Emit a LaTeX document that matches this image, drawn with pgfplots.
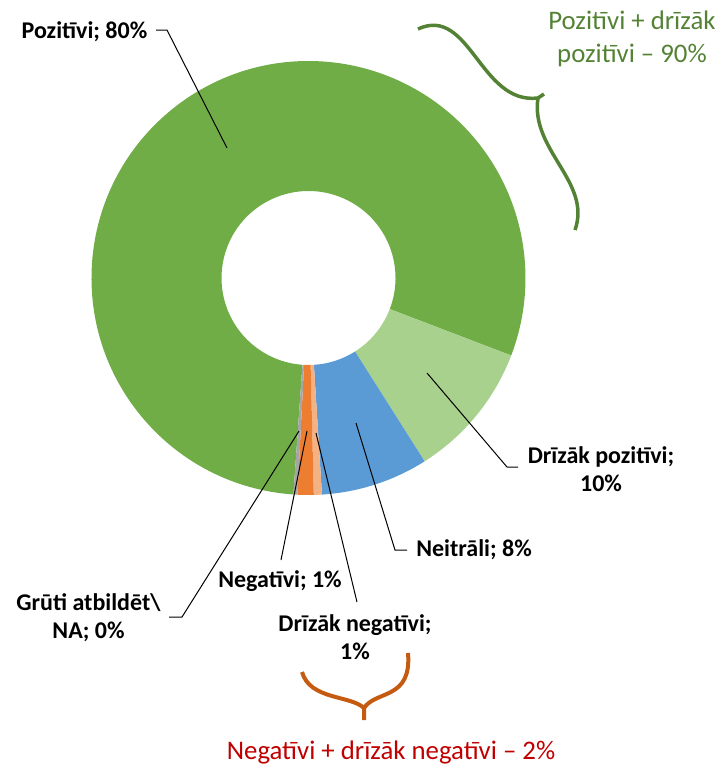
\documentclass[border=0pt]{standalone}
\usepackage{fontspec}
\setmainfont{Carlito}
\usepackage{pgfplots}
\pgfplotsset{compat=1.18}
\usepackage{pgfplotstable}

\definecolor{c0}{HTML}{70AD47}
\definecolor{c1}{HTML}{A9D18E}
\definecolor{c2}{HTML}{5B9BD5}
\definecolor{c3}{HTML}{F4B183}
\definecolor{c4}{HTML}{ED7D31}
\definecolor{c5}{HTML}{A5A5A5}
\definecolor{gbrace}{HTML}{548235}
\definecolor{obrace}{HTML}{C55A11}
\definecolor{rtext}{HTML}{C00000}

% share of answers, in percent, clockwise from the bottom
\pgfplotstableread{
idx value
0 79.7
1 10.2
2 8.0
3 0.6
4 1.2
5 0.3
}\slices

\begin{document}
\begin{tikzpicture}
\xdef\cur{266.0}
\foreach \i in {0,...,5}{%
  \pgfplotstablegetelem{\i}{value}\of\slices
  \pgfmathsetmacro\nxt{\cur-3.6*\pgfplotsretval}%
  \expandafter\xdef\csname sa\i\endcsname{\cur}%
  \expandafter\xdef\csname ea\i\endcsname{\nxt}%
  \xdef\cur{\nxt}%
}
\begin{axis}[name=ax, x=0.5pt, y=0.5pt, xmin=0, xmax=724, ymin=0, ymax=768,
  y dir=reverse, hide axis, clip=false]
\pgfplotsinvokeforeach{0,...,5}{%
  \fill[c#1] (axis cs:308.5,278) ++(\csname sa#1\endcsname:108.5pt)
    arc[start angle=\csname sa#1\endcsname, end angle=\csname ea#1\endcsname, radius=108.5pt]
    -- ++(\csname ea#1\endcsname:-65pt)
    arc[start angle=\csname ea#1\endcsname, end angle=\csname sa#1\endcsname, radius=43.5pt]
    -- cycle;
}
% leader lines
\draw[black, line width=0.5pt] (axis cs:156,30) -- (axis cs:167,30) -- (axis cs:227,148);
\draw[black, line width=0.5pt] (axis cs:518,467) -- (axis cs:507,467) -- (axis cs:427,373);
\draw[black, line width=0.5pt] (axis cs:407,550) -- (axis cs:395,550) -- (axis cs:356,423);
\draw[black, line width=0.5pt] (axis cs:281,560) -- (axis cs:307,431);
\draw[black, line width=0.5pt] (axis cs:357,602) -- (axis cs:316,433);
\draw[black, line width=0.5pt] (axis cs:169,617) -- (axis cs:182,617) -- (axis cs:299,431);
% labels
\tikzset{lbl/.style={inner sep=0pt, align=center, font=\fontsize{12pt}{14pt}\selectfont\bfseries}}
\node[lbl] at (axis cs:84.5,31.5) {Pozitīvi; 80\%};
\node[lbl] at (axis cs:601,469) {Drīzāk pozitīvi;\\10\%};
\node[lbl] at (axis cs:474,550) {Neitrāli; 8\%};
\node[lbl] at (axis cs:280,581) {Negatīvi; 1\%};
\node[lbl] at (axis cs:355,637) {Drīzāk negatīvi;\\1\%};
\node[lbl] at (axis cs:88.5,617.5) {Grūti atbildēt\textbackslash\\NA; 0\%};
% braces
\draw[gbrace, line width=1.75pt] (axis cs:418,29) .. controls (axis cs:470,5) and (axis cs:480,105) .. (axis cs:538,98) -- (axis cs:544,94);
\draw[gbrace, line width=1.75pt] (axis cs:538,98) .. controls (axis cs:530,150) and (axis cs:592,182) .. (axis cs:575,230);
\draw[obrace, line width=2pt] (axis cs:302,672) .. controls (axis cs:310,700) and (axis cs:350,695) .. (axis cs:364,708) -- (axis cs:364,720);
\draw[obrace, line width=2pt] (axis cs:364,708) .. controls (axis cs:376,690) and (axis cs:412,700) .. (axis cs:408,653);
% group annotations
\node[inner sep=0pt, align=center, text=gbrace, font=\fontsize{13.4pt}{16.5pt}\selectfont] at (axis cs:632,38.5) {Pozitīvi + drīzāk\\pozitīvi – 90\%};
\node[inner sep=0pt, text=rtext, font=\fontsize{13.4pt}{16.5pt}\selectfont] at (axis cs:391,752) {Negatīvi + drīzāk negatīvi – 2\%};
\end{axis}
\pgfresetboundingbox
\path (ax.south west) rectangle (ax.north east);
\end{tikzpicture}
\end{document}
